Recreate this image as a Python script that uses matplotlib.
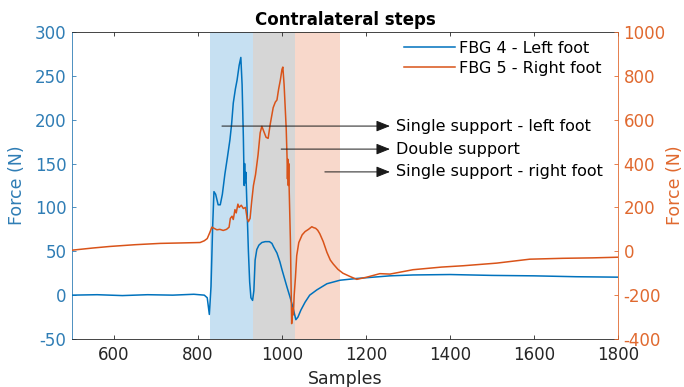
import matplotlib
matplotlib.use('Agg')
import matplotlib.pyplot as plt

# ---------------- data ----------------
blue_x = [500, 560, 620, 680, 740, 790, 815, 822, 827, 831, 835, 838, 842, 848, 853, 858,
          864, 870, 876, 880, 884, 889, 893, 898, 902, 905, 908, 910, 911, 912, 914, 917,
          920, 923, 926, 930, 933, 936, 940, 945, 952, 960, 970, 976, 980, 988, 995, 1000,
          1006, 1012, 1019, 1026, 1033, 1038, 1045, 1055, 1066, 1083, 1107, 1138, 1178,
          1257, 1312, 1400, 1500, 1600, 1700, 1800]
blue_y = [0, 0.5, -0.5, 0.5, 0, 1, 0, -3, -22, 10, 80, 118, 115, 103, 103, 115,
          138, 157, 177, 195, 219, 235, 245, 262, 271, 240, 180, 125, 150, 128, 140, 95,
          50, 15, -3, -6, 5, 40, 52, 57, 60, 61, 61, 59, 55, 48, 38, 29,
          19, 9, -2, -14, -28, -25, -17, -8, 0, 6, 13, 17, 19,
          22, 23, 23.5, 22.5, 22, 21, 20.5]

orange_x = [500, 550, 590, 650, 710, 760, 805, 815, 822, 828, 833, 838, 845, 852, 860, 868,
            874, 877, 881, 884, 888, 891, 895, 898, 903, 908, 913, 917, 920, 924, 928, 932,
            937, 943, 948, 952, 956, 962, 967, 972, 979, 984, 988, 992, 996, 1000, 1002,
            1005, 1010, 1012, 1013, 1014, 1015, 1016, 1017, 1020, 1023, 1025, 1027, 1029,
            1032, 1035, 1040, 1048, 1055, 1063, 1071, 1075, 1080, 1085, 1090, 1098, 1107,
            1115, 1122, 1133, 1145, 1162, 1178, 1202, 1233, 1257, 1312, 1380, 1431, 1511,
            1590, 1669, 1740, 1800]
orange_y = [5, 15, 22, 30, 36, 38, 40, 48, 58, 85, 110, 105, 98, 100, 95, 100,
            110, 150, 160, 145, 190, 175, 215, 200, 210, 195, 200, 150, 135, 150, 230, 300,
            350, 440, 540, 570, 550, 520, 515, 580, 655, 680, 690, 740, 780, 830, 840,
            760, 560, 430, 330, 420, 300, 400, 290, 50, -330, -260, -290, -200,
            -120, -20, 40, 75, 90, 100, 112, 108, 105, 96, 80, 45, -5,
            -40, -58, -82, -100, -115, -128, -118, -102, -104, -84, -72, -66, -54,
            -36, -32, -30, -27]

phases = [(828, 930), (930, 1032), (1032, 1137)]
phase_colors = ['#c6e0f2', '#d6d6d6', '#f8d8cb']

series_labels = ['FBG 4 - Left foot', 'FBG 5 - Right foot']
annotation_texts = ['Single support - left foot', 'Double support', 'Single support - right foot']

left_ticks = [-50, 0, 50, 100, 150, 200, 250, 300]
right_ticks = [-400, -200, 0, 200, 400, 600, 800, 1000]
x_ticks = [600, 800, 1000, 1200, 1400, 1600, 1800]

# ---------------- style ----------------
BLUE = '#0072BD'
ORANGE = '#D95319'
BLUE_TXT = '#2f7db5'
ORANGE_TXT = '#e0692f'
DARK = '#262626'

plt.rcParams['font.family'] = ['DejaVu Sans']
plt.rcParams['axes.unicode_minus'] = False

fig = plt.figure(figsize=(6.84, 3.87), dpi=100)
ax = fig.add_axes([72 / 684, 1 - 339 / 387, 546 / 684, 307 / 387])
ax2 = ax.twinx()

for (a, b), c in zip(phases, phase_colors):
    ax.axvspan(a, b, color=c, lw=0, zorder=0)

l1, = ax.plot(blue_x, blue_y, color=BLUE, lw=1.1, zorder=3, label=series_labels[0])
l2, = ax2.plot(orange_x, orange_y, color=ORANGE, lw=1.1, zorder=2, label=series_labels[1])

ax.set_xlim(500, 1800)
ax.set_ylim(-50, 300)
ax2.set_ylim(-400, 1000)
ax.set_xticks(x_ticks)
ax.set_yticks(left_ticks)
ax2.set_yticks(right_ticks)

ax.tick_params(axis='x', direction='in', length=3, width=0.6, colors=DARK, labelsize=12,
               top=True, pad=5)
ax.tick_params(axis='y', direction='in', length=3, width=0.6, colors=BLUE_TXT, labelsize=12, pad=4)
ax2.tick_params(axis='y', direction='in', length=3, width=0.6, colors=ORANGE_TXT, labelsize=12, pad=4)

for sp in ['top', 'bottom']:
    ax.spines[sp].set_color(DARK)
    ax.spines[sp].set_linewidth(0.6)
    ax2.spines[sp].set_visible(False)
ax.spines['left'].set_color(BLUE_TXT)
ax.spines['right'].set_visible(False)
ax2.spines['left'].set_visible(False)
ax2.spines['right'].set_color(ORANGE_TXT)
ax.spines['left'].set_linewidth(0.6)
ax2.spines['right'].set_linewidth(0.6)

ax.set_title('Contralateral steps', fontsize=12, fontweight='bold', color='black', pad=5)
ax.set_xlabel('Samples', fontsize=12.5, color=DARK)
ax.xaxis.set_label_coords(0.5, -0.10)
ax.set_ylabel('Force (N)', fontsize=12.5, color=BLUE_TXT)
ax.yaxis.set_label_coords(-0.085, 0.5)
ax2.set_ylabel('Force (N)', fontsize=12.5, color=ORANGE_TXT)
ax2.yaxis.set_label_coords(1.088, 0.5)

leg = ax2.legend(handles=[l1, l2], loc='upper right', frameon=False, fontsize=11.5,
                 handlelength=3.2, handletextpad=0.2, borderaxespad=0.15, labelspacing=0.3,
                 bbox_to_anchor=(0.985, 1.0))

# annotation arrows (right-axis data coordinates)
arrow_starts = [857, 998, 1102]
arrow_levels = [571, 466, 362]
arrow_end = 1257
text_x = 1271
for t, xs, yl in zip(annotation_texts, arrow_starts, arrow_levels):
    ax2.annotate('', xy=(arrow_end, yl), xytext=(xs, yl),
                 arrowprops=dict(arrowstyle='-|>,head_length=0.7,head_width=0.28',
                                 color='#1a1a1a', lw=0.7, shrinkA=0, shrinkB=0,
                                 mutation_scale=12), zorder=5)
    ax2.text(text_x, yl, t, fontsize=11.5, va='center', ha='left', color='black', zorder=6)

fig.savefig('out.png', dpi=100)
